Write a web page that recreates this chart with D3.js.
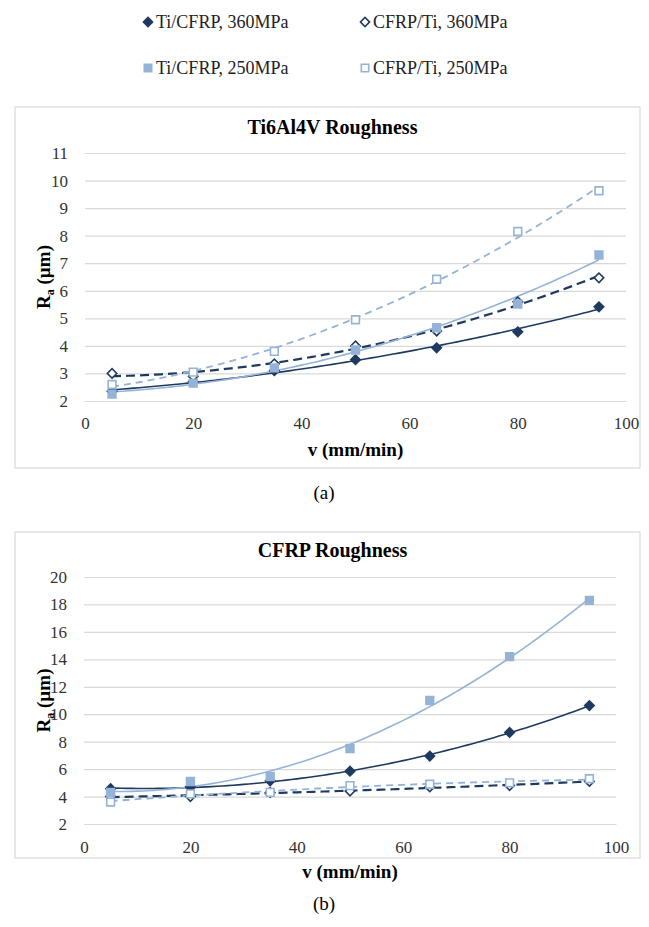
<!DOCTYPE html>
<html>
<head>
<meta charset="utf-8">
<script src="https://cdnjs.cloudflare.com/ajax/libs/d3/7.8.5/d3.min.js"></script>
<style>
  body { margin: 0; background: #fff; }
  svg text { font-family: "Liberation Serif", "Times New Roman", serif !important; }
</style>
</head>
<body>
<svg id="fig" width="649" height="927"></svg>
<script>
// speeds v (mm/min)
var speeds = [5, 20, 35, 50, 65, 80, 95];

// (a) Ti6Al4V roughness Ra (um)
var tiCfrp360A = [2.35, 2.7, 3.1, 3.5, 3.93, 4.51, 5.42];
var cfrpTi360A = [3.0, 2.9, 3.35, 4.0, 4.54, 5.6, 6.47];
var tiCfrp250A = [2.25, 2.65, 3.2, 3.85, 4.66, 5.52, 7.3];
var cfrpTi250A = [2.6, 3.05, 3.8, 4.95, 6.42, 8.15, 9.63];

// (b) CFRP roughness Ra (um)
var tiCfrp360B = [4.57, 4.7, 5.15, 5.85, 6.95, 8.67, 10.63];
var cfrpTi360B = [4.0, 4.0, 4.3, 4.4, 4.7, 4.8, 5.1];
var tiCfrp250B = [4.3, 5.1, 5.46, 7.5, 11.0, 14.2, 18.3];
var cfrpTi250B = [3.6, 4.2, 4.3, 4.8, 4.9, 5.0, 5.3];

var xTicks = [0, 20, 40, 60, 80, 100];
var yTicksA = [2, 3, 4, 5, 6, 7, 8, 9, 10, 11];
var yTicksB = [2, 4, 6, 8, 10, 12, 14, 16, 18, 20];

var seriesNames = ['Ti/CFRP, 360MPa', 'CFRP/Ti, 360MPa', 'Ti/CFRP, 250MPa', 'CFRP/Ti, 250MPa'];

var dark = '#1f3a60';
var light = '#95b3d7';
var grid = '#d9d9d9';

// marker + line style per series, in seriesNames order
var styles = [
  {diamond: true, fill: dark, stroke: dark, line: dark, dash: null, width: 1.6},
  {diamond: true, fill: '#fff', stroke: dark, line: dark, dash: '9,5', width: 2.2},
  {diamond: false, fill: light, stroke: light, line: light, dash: null, width: 1.6},
  {diamond: false, fill: '#fff', stroke: light, line: light, dash: '7,5', width: 1.8}
];

var svg = d3.select('#fig');

// least squares quadratic, like an excel poly(2) trendline
function polyFit(xs, ys) {
  var s = [0, 0, 0, 0, 0], t = [0, 0, 0];
  xs.forEach(function(x, i) {
    for (var k = 0; k < 5; k++) s[k] += Math.pow(x, k);
    for (var j = 0; j < 3; j++) t[j] += ys[i] * Math.pow(x, j);
  });
  var m = [[s[0], s[1], s[2], t[0]], [s[1], s[2], s[3], t[1]], [s[2], s[3], s[4], t[2]]];
  for (var c = 0; c < 3; c++) {
    for (var r = c + 1; r < 3; r++) {
      var f = m[r][c] / m[c][c];
      for (var q = c; q < 4; q++) m[r][q] -= f * m[c][q];
    }
  }
  var b = [0, 0, 0];
  for (var i = 2; i >= 0; i--) {
    var v = m[i][3];
    for (var q2 = i + 1; q2 < 3; q2++) v -= m[i][q2] * b[q2];
    b[i] = v / m[i][i];
  }
  return function(x) { return b[0] + b[1] * x + b[2] * x * x; };
}

// diamonds are rotated squares, like excel markers
function marker(sel, st, size) {
  sel.attr('d', d3.symbol().type(d3.symbolSquare).size(st.diamond ? size * 0.75 : size))
    .attr('fill', st.fill).attr('stroke', st.stroke).attr('stroke-width', 1.6);
}

function drawChart(cfg) {
  var x = d3.scaleLinear().domain([0, 100]).range([cfg.left, cfg.right]);
  var y = d3.scaleLinear().domain([cfg.yTicks[0], cfg.yTicks[cfg.yTicks.length - 1]]).range([cfg.bottom, cfg.top]);
  var g = svg.append('g');

  g.append('rect')
    .attr('x', cfg.frame[0]).attr('y', cfg.frame[1])
    .attr('width', cfg.frame[2] - cfg.frame[0]).attr('height', cfg.frame[3] - cfg.frame[1])
    .attr('fill', 'none').attr('stroke', grid).attr('stroke-width', 1.2);

  g.append('text')
    .attr('x', (cfg.frame[0] + cfg.frame[2]) / 2 + 5).attr('y', cfg.titleY)
    .attr('text-anchor', 'middle').attr('font-size', 20).attr('font-weight', 'bold')
    .text(cfg.title);

  var yAxis = d3.axisLeft(y).tickValues(cfg.yTicks).tickSize(-(cfg.right - cfg.left)).tickPadding(17);
  var ya = g.append('g').attr('transform', 'translate(' + cfg.left + ',0)').call(yAxis);
  ya.select('.domain').remove();
  ya.selectAll('line').attr('stroke', grid).attr('stroke-width', 1.2);
  ya.selectAll('text').attr('font-size', 17).attr('fill', '#333');

  var xAxis = d3.axisBottom(x).tickValues(xTicks).tickSize(0).tickPadding(cfg.xPad);
  var xa = g.append('g').attr('transform', 'translate(0,' + cfg.bottom + ')').call(xAxis);
  xa.select('.domain').attr('stroke', grid).attr('stroke-width', 1.2);
  xa.selectAll('text').attr('font-size', 17).attr('fill', '#333');

  g.append('text')
    .attr('x', (cfg.left + cfg.right) / 2).attr('y', cfg.xTitleY)
    .attr('text-anchor', 'middle').attr('font-size', 19).attr('font-weight', 'bold')
    .text('v (mm/min)');

  var yt = g.append('text')
    .attr('transform', 'translate(' + cfg.yTitleX + ',' + (cfg.top + cfg.bottom) / 2 + ') rotate(-90)')
    .attr('text-anchor', 'middle').attr('font-size', 19).attr('font-weight', 'bold');
  yt.append('tspan').text('R');
  yt.append('tspan').attr('font-size', 12).attr('dy', 4).text('a');
  yt.append('tspan').attr('dy', -4).text(' (\u00b5m)');

  var fineX = d3.range(speeds[0], speeds[speeds.length - 1] + 0.5, 1);
  var line = d3.line().x(function(d) { return x(d[0]); }).y(function(d) { return y(d[1]); });

  cfg.series.forEach(function(vals, i) {
    var st = styles[i];
    var fit = polyFit(speeds, vals);
    g.append('path')
      .datum(fineX.map(function(v) { return [v, fit(v)]; }))
      .attr('d', line).attr('fill', 'none')
      .attr('stroke', st.line).attr('stroke-width', st.width)
      .attr('stroke-dasharray', st.dash);
  });

  cfg.series.forEach(function(vals, i) {
    var st = styles[i];
    g.selectAll('path.m' + i)
      .data(vals).enter().append('path')
      .attr('class', 'm' + i)
      .attr('transform', function(d, k) {
        return 'translate(' + x(speeds[k]) + ',' + y(d) + ')' + (st.diamond ? ' rotate(45)' : '');
      })
      .call(marker, st, 60);
  });

  g.append('text')
    .attr('x', 324).attr('y', cfg.labelY)
    .attr('text-anchor', 'middle').attr('font-size', 19)
    .text(cfg.label);
}

// legend
var legendPos = [[148, 22], [365, 22], [148, 68], [365, 68]];
var legend = svg.append('g');
seriesNames.forEach(function(name, i) {
  var st = styles[i];
  var p = legendPos[i];
  legend.append('path')
    .attr('transform', 'translate(' + p[0] + ',' + p[1] + ')' + (st.diamond ? ' rotate(45)' : ''))
    .call(marker, st, 55);
  legend.append('text')
    .attr('x', p[0] + 8).attr('y', p[1] + 6)
    .attr('font-size', 18).attr('fill', '#222')
    .text(name);
});

drawChart({
  title: 'Ti6Al4V Roughness', label: '(a)',
  frame: [15, 107, 640, 468],
  left: 85, right: 626, top: 153, bottom: 401,
  yTicks: yTicksA, titleY: 134, xPad: 16, xTitleY: 456, yTitleX: 50, labelY: 499,
  series: [tiCfrp360A, cfrpTi360A, tiCfrp250A, cfrpTi250A]
});

drawChart({
  title: 'CFRP Roughness', label: '(b)',
  frame: [15, 532, 640, 858],
  left: 84, right: 616, top: 577, bottom: 824,
  yTicks: yTicksB, titleY: 557, xPad: 17, xTitleY: 878, yTitleX: 50, labelY: 910,
  series: [tiCfrp360B, cfrpTi360B, tiCfrp250B, cfrpTi250B]
});
</script>
</body>
</html>
